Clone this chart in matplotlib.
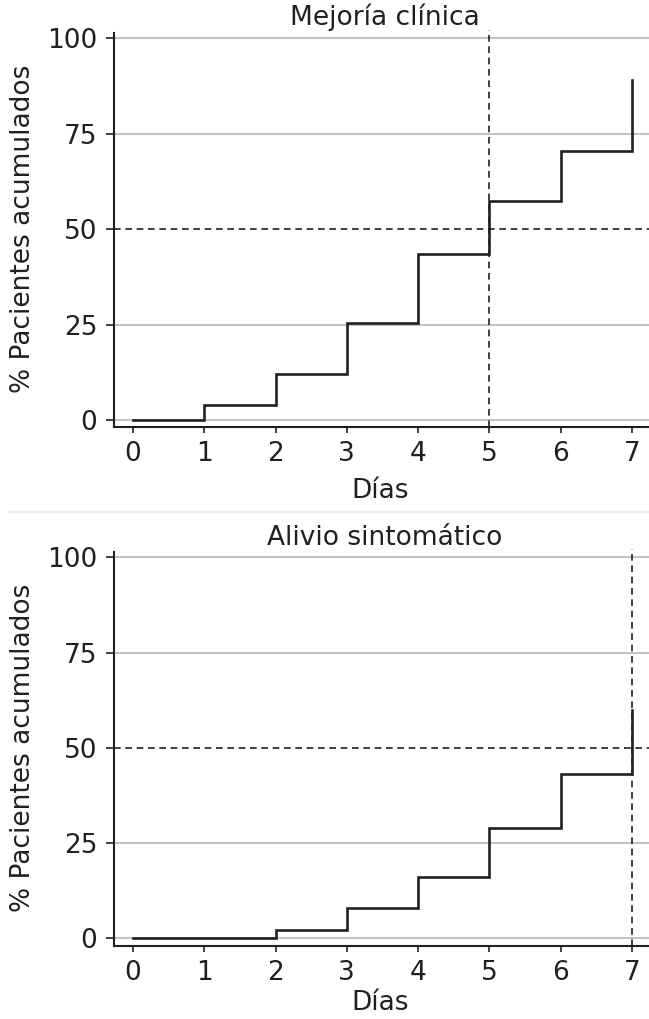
import matplotlib
matplotlib.use("Agg")
import matplotlib.pyplot as plt
from matplotlib.lines import Line2D

plt.rcParams['font.family'] = ['DejaVu Sans']

days = [0, 1, 2, 3, 4, 5, 6, 7]
mejoria = [0, 4, 12, 25.5, 43.5, 57.5, 70.5, 89]
alivio = [0, 0, 2, 8, 16, 29, 43, 60]
yticks = [0, 25, 50, 75, 100]
titles = ["Mejoría clínica", "Alivio sintomático"]
median_days = [5, 7]
xlabel = "Días"
ylabel = "% Pacientes acumulados"

FS = 19
INK = '#231f20'
GRID = '#bdbdbd'

fig = plt.figure(figsize=(6.49, 10.19), dpi=100)
axes_specs = [
    # left, bottom, width, height, ylim bottom, xlabel y, title y
    (0.1757, 0.581, 0.8243, 0.390, -1.83, -0.160, 1.030),
    (0.1757, 0.0716, 0.8243, 0.390, -2.1, -0.143, 1.028),
]
series = [mejoria, alivio]

for spec, vals, title, md in zip(axes_specs, series, titles, median_days):
    l, b, w, h, yb, xly, ty = spec
    ax = fig.add_axes([l, b, w, h])
    ax.set_xlim(-0.266, 7.24)
    ax.set_ylim(yb, 102.3)
    for yt in yticks:
        if yt == 50:
            continue
        ax.axhline(yt, color=GRID, lw=1.3, zorder=1)
    ax.axhline(50, color=INK, lw=1.2, linestyle=(0, (4, 2.8)), zorder=2)
    ax.plot([md, md], [yb, 102.3], color=INK, lw=1.2, linestyle=(0, (4, 2.8)), zorder=2,
            clip_on=False)
    ax.plot(days, vals, drawstyle='steps-post', color=INK, lw=1.9, zorder=3,
            solid_joinstyle='miter')
    for s in ['top', 'right']:
        ax.spines[s].set_visible(False)
    for s in ['left', 'bottom']:
        ax.spines[s].set_color(INK)
        ax.spines[s].set_linewidth(1.5)
    ax.spines['left'].set_bounds(yb, 101.5)
    ax.set_xticks(days)
    ax.set_yticks(yticks)
    ax.tick_params(axis='x', length=4, width=1.2, color=INK, pad=6, labelsize=FS, labelcolor=INK)
    ax.tick_params(axis='y', length=6, width=1.2, color=INK, pad=6, labelsize=FS, labelcolor=INK)
    ax.set_xlabel(xlabel, fontsize=FS, color=INK)
    ax.xaxis.label.set_va('center')
    ax.xaxis.set_label_coords(0.497, xly)
    ax.set_ylabel(ylabel, fontsize=FS, color=INK)
    ax.yaxis.label.set_va('center')
    ax.yaxis.set_label_coords(-0.170, 0.498)
    ax.text(0.5065, ty, title, transform=ax.transAxes, ha='center', va='center',
            fontsize=FS, color=INK)

fig.add_artist(Line2D([9 / 649, 1.0], [1 - 512 / 1019, 1 - 512 / 1019],
                      color='#ececec', lw=1.6, transform=fig.transFigure))

fig.savefig("out.png", dpi=100)
